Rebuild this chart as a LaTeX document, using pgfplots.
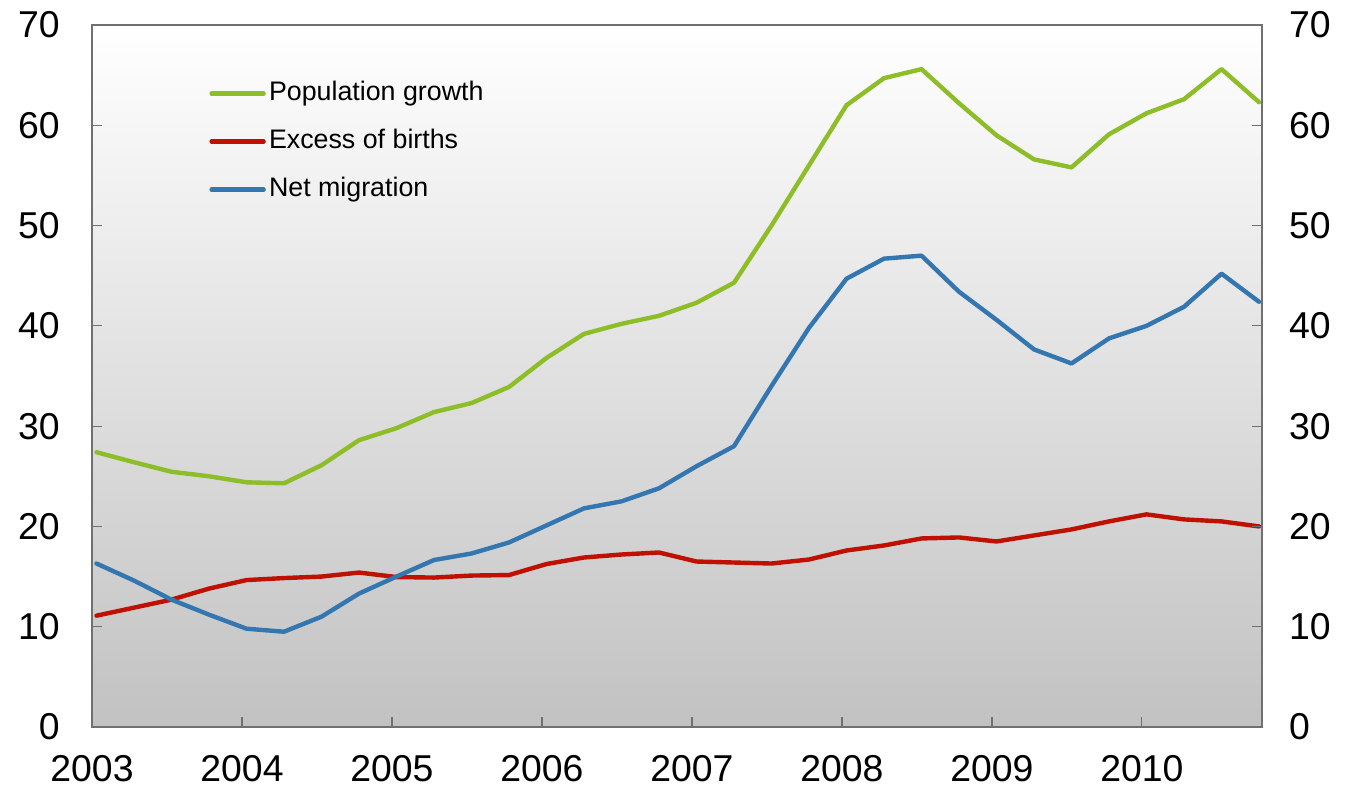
\documentclass[border=0pt]{standalone}
\usepackage{fontspec}
\setmainfont{Liberation Sans}
\usepackage{pgfplots}
\pgfplotsset{compat=1.18}
\definecolor{cgreen}{RGB}{141,190,40}
\definecolor{cred}{RGB}{192,16,0}
\definecolor{cblue}{RGB}{52,118,175}
\definecolor{caxis}{RGB}{112,112,112}
\begin{document}
\begin{tikzpicture}
\pgfplotsset{
  common/.style={
    scale only axis, width=585pt, height=351pt,
    xmin=2003, xmax=2010.8, ymin=0, ymax=70,
    ytick={0,10,...,70},
    /pgf/number format/assume math mode=true,
    tick label style={font=\fontsize{18.7}{19}\selectfont},
    axis line style={caxis, line width=1pt},
    major tick style={caxis, line width=0.6pt},
    major tick length=5pt,
    tick align=inside,
  }
}
\path (-46pt,-34pt) rectangle (628pt,363.5pt);
\begin{axis}[common,
  at={(0,0)}, anchor=south west,
  axis background/.style={shade, top color=white, bottom color=black!24},
  xtick={2003,...,2010},
  xticklabel style={/pgf/number format/1000 sep={}, yshift=-10.5pt},
  ytick pos=left, xtick pos=bottom,
  yticklabel style={xshift=-12.6pt},
  legend style={at={(rel axis cs:0.1,0.9215)}, anchor=north west, draw=none, fill=none,
    font=\fontsize{13.4}{16}\selectfont, row sep=11pt, inner sep=0pt,
    nodes={inner sep=0pt, text height=10pt, text depth=3pt}},
  legend cell align=left,
  legend image code/.code={\draw[#1, line width=2.2pt, line cap=round] (0pt,0pt) -- (26pt,0pt); \path (27.6pt,0pt);},
]
\addplot[cgreen, line width=2.2pt, line join=round, line cap=round] coordinates {
(2003.03,27.4)(2003.28,26.4)(2003.53,25.45)(2003.78,25.0)(2004.03,24.4)(2004.28,24.3)
(2004.53,26.1)(2004.78,28.6)(2005.03,29.8)(2005.28,31.4)(2005.53,32.3)(2005.78,33.9)
(2006.03,36.8)(2006.28,39.2)(2006.53,40.2)(2006.78,41.0)(2007.03,42.3)(2007.28,44.3)
(2007.53,50.0)(2007.78,56.0)(2008.03,62.0)(2008.28,64.7)(2008.53,65.6)(2008.78,62.2)
(2009.03,59.0)(2009.28,56.6)(2009.53,55.8)(2009.78,59.1)(2010.03,61.2)(2010.28,62.6)
(2010.53,65.6)(2010.78,62.3)};
\addlegendentry{Population growth}
\addplot[cred, line width=2.2pt, line join=round, line cap=round] coordinates {
(2003.03,11.1)(2003.28,11.9)(2003.53,12.7)(2003.78,13.8)(2004.03,14.65)(2004.28,14.85)
(2004.53,15.0)(2004.78,15.4)(2005.03,14.95)(2005.28,14.9)(2005.53,15.1)(2005.78,15.15)
(2006.03,16.25)(2006.28,16.9)(2006.53,17.2)(2006.78,17.4)(2007.03,16.5)(2007.28,16.4)
(2007.53,16.3)(2007.78,16.7)(2008.03,17.6)(2008.28,18.1)(2008.53,18.8)(2008.78,18.9)
(2009.03,18.5)(2009.28,19.1)(2009.53,19.7)(2009.78,20.5)(2010.03,21.2)(2010.28,20.7)
(2010.53,20.5)(2010.78,20.0)};
\addlegendentry{Excess of births}
\addplot[cblue, line width=2.2pt, line join=round, line cap=round] coordinates {
(2003.03,16.3)(2003.28,14.6)(2003.53,12.7)(2003.78,11.2)(2004.03,9.8)(2004.28,9.5)
(2004.53,11.0)(2004.78,13.3)(2005.03,15.0)(2005.28,16.65)(2005.53,17.3)(2005.78,18.4)
(2006.03,20.1)(2006.28,21.8)(2006.53,22.5)(2006.78,23.8)(2007.03,26.0)(2007.28,28.0)
(2007.53,34.0)(2007.78,39.8)(2008.03,44.7)(2008.28,46.7)(2008.53,47.0)(2008.78,43.4)
(2009.03,40.6)(2009.28,37.65)(2009.53,36.25)(2009.78,38.75)(2010.03,40.0)(2010.28,41.9)
(2010.53,45.2)(2010.78,42.4)};
\addlegendentry{Net migration}
\end{axis}
\begin{axis}[common,
  at={(0,0)}, anchor=south west,
  axis x line=none,
  axis y line*=right,
  yticklabel style={xshift=10pt},
]
\end{axis}
\end{tikzpicture}
\end{document}
